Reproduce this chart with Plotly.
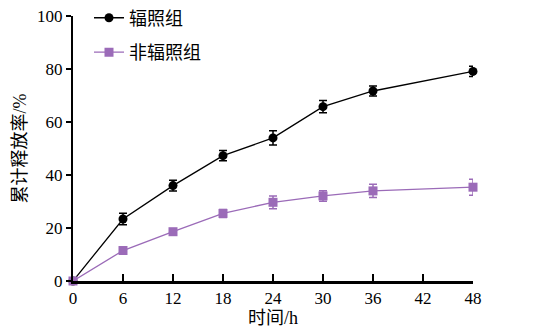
import plotly.graph_objects as go

time_h = [0, 6, 12, 18, 24, 30, 36, 48]
irradiated = [0, 23.4, 36.0, 47.3, 54.0, 65.8, 71.7, 79.1]
irradiated_err = [0, 2.2, 2.0, 1.9, 2.7, 2.3, 1.9, 1.9]
non_irradiated = [0, 11.5, 18.6, 25.5, 29.7, 32.1, 34.0, 35.4]
non_irradiated_err = [0, 1.2, 1.0, 1.5, 2.4, 2.0, 2.5, 3.0]
x_ticks = [0, 6, 12, 18, 24, 30, 36, 42, 48]
y_ticks = [0, 20, 40, 60, 80, 100]

purple = "#9b6bb8"
font_fam = "Liberation Serif, Noto Sans CJK SC, serif"

fig = go.Figure()
fig.add_trace(go.Scatter(
    x=time_h, y=irradiated, name="辐照组", mode="lines+markers",
    line=dict(color="black", width=1.3),
    marker=dict(symbol="circle", size=9, color="black"),
    error_y=dict(type="data", array=irradiated_err, color="black", thickness=1.5, width=4),
    legendgroup="a", cliponaxis=False,
))
fig.add_trace(go.Scatter(
    x=time_h, y=non_irradiated, name="非辐照组", mode="lines+markers",
    line=dict(color=purple, width=1.3),
    marker=dict(symbol="square", size=9, color=purple),
    error_y=dict(type="data", array=non_irradiated_err, color=purple, thickness=1.5, width=4),
    legendgroup="b", cliponaxis=False,
))

fig.update_layout(
    width=535, height=333,
    margin=dict(l=73, r=62, t=16, b=52, autoexpand=False),
    paper_bgcolor="white", plot_bgcolor="white",
    font=dict(family=font_fam, size=17, color="black"),
    showlegend=True,
    legend=dict(x=0.04, y=1.062, xanchor="left", yanchor="top",
                bgcolor="rgba(0,0,0,0)", font=dict(size=18, family=font_fam),
                tracegroupgap=8, itemwidth=30),
    xaxis=dict(range=[0, 48], tickvals=x_ticks, ticktext=[str(v) for v in x_ticks],
               showline=True, linecolor="black", linewidth=2.5,
               ticks="inside", ticklen=7, tickwidth=2, tickcolor="black",
               showgrid=False, zeroline=False, automargin=False,
               title=dict(text="时间/h", font=dict(size=18), standoff=2)),
    yaxis=dict(range=[0, 100], tickvals=y_ticks, ticktext=[str(v) for v in y_ticks],
               showline=True, linecolor="black", linewidth=2,
               ticks="outside", ticklen=5, tickwidth=1.5, tickcolor="black",
               showgrid=False, zeroline=False, automargin=False,
               title=dict(text="累计释放率/%", font=dict(size=18), standoff=6)),
)

fig.write_html("out.html")
